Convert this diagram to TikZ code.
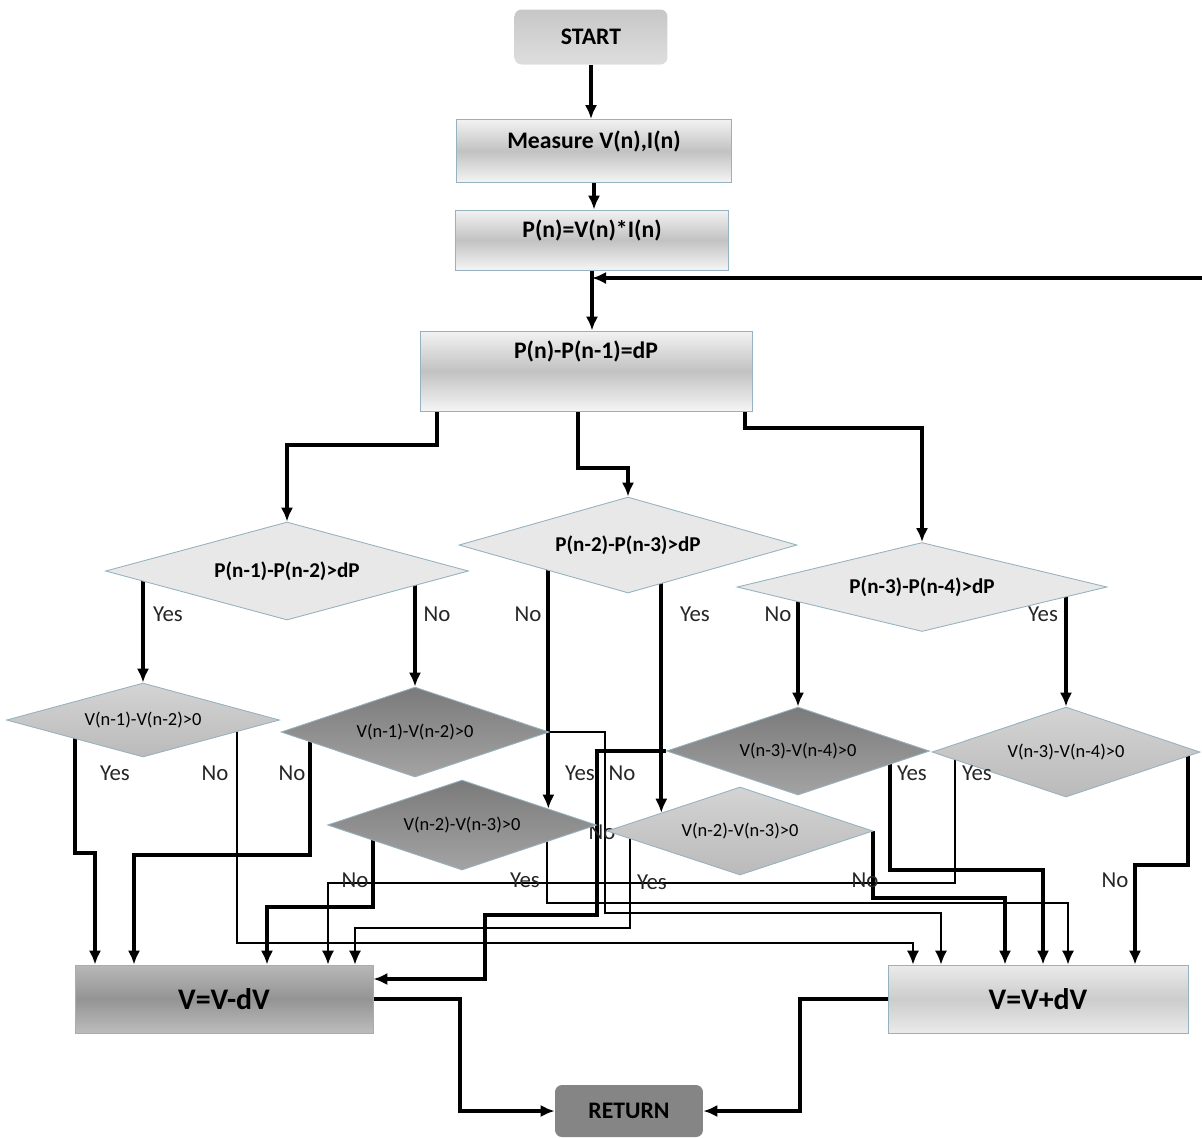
\documentclass[tikz,border=0pt]{standalone}
\usepackage{fontspec}
\setmainfont{Carlito}
\usetikzlibrary{shapes.geometric,arrows.meta,calc,backgrounds}
\definecolor{edge}{RGB}{150,178,192}

\begin{document}
\begin{tikzpicture}[x=0.02cm,y=-0.02cm,>={Latex[length=8pt,width=7pt]},
  line/.style={line width=2.3pt},
  fine/.style={line width=1.1pt},
  box/.style={rectangle,draw=edge,line width=0.5pt,inner sep=0pt,
    top color=black!5,bottom color=black!4,middle color=black!24,
    text height=0.35cm,text depth=0.45cm,
    font=\fontsize{13.5}{16}\selectfont\bfseries},
  endbox/.style={rectangle,rounded corners=4pt,inner sep=0pt,
    font=\fontsize{13.5}{16}\selectfont\bfseries},
  pdia/.style={diamond,aspect=3.7,inner sep=0pt,draw=edge,line width=0.5pt,
    fill=black!9,font=\fontsize{12}{14}\selectfont\bfseries},
  vlight/.style={diamond,aspect=3.5,inner sep=0pt,draw=edge,line width=0.5pt,
    top color=black!17,bottom color=black!27,font=\fontsize{10.5}{12}\selectfont},
  vdark/.style={vlight,top color=black!52,bottom color=black!36},
  lbl/.style={inner sep=0pt,font=\fontsize{13}{15}\selectfont,text=black!85}
]
\useasboundingbox (0,0) rectangle (1202,1137);

% boxes
\node[endbox,top color=black!22,bottom color=black!13,minimum width=3.06cm,minimum height=1.10cm] (start) at (591,37) {START};
\node[box,minimum width=5.50cm,minimum height=1.26cm] (measure) at (594,151) {Measure V(n),I(n)};
\node[box,minimum width=5.46cm,minimum height=1.20cm] (power) at (592,240) {P(n)=V(n)*I(n)};
\node[box,text depth=0.85cm,minimum width=6.64cm,minimum height=1.60cm] (diff) at (586,371) {P(n)-P(n-1)=dP};

% first comparisons
\node[pdia,minimum width=7.26cm,minimum height=1.96cm] (pa) at (287,571) {P(n-1)-P(n-2)>dP};
\node[pdia,minimum width=6.76cm,minimum height=1.92cm] (pb) at (628,545) {P(n-2)-P(n-3)>dP};
\node[pdia,minimum width=7.40cm,minimum height=1.78cm] (pc) at (922,587) {P(n-3)-P(n-4)>dP};

% second comparisons
\node[vlight,minimum width=5.46cm,minimum height=1.48cm] (va) at (143,720) {V(n-1)-V(n-2)>0};
\node[vdark,minimum width=5.36cm,minimum height=1.80cm] (vb) at (415,732) {V(n-1)-V(n-2)>0};
\node[vdark,minimum width=5.38cm,minimum height=1.80cm] (vc) at (462,825) {V(n-2)-V(n-3)>0};
\node[vlight,minimum width=5.32cm,minimum height=1.76cm] (vd) at (740,831) {V(n-2)-V(n-3)>0};
\node[vdark,minimum width=5.26cm,minimum height=1.76cm] (ve) at (798,751) {V(n-3)-V(n-4)>0};
\node[vlight,minimum width=5.36cm,minimum height=1.80cm] (vf) at (1066,752) {V(n-3)-V(n-4)>0};

% results
\node[box,top color=black!28,bottom color=black!26,middle color=black!42,text height=,text depth=,
  font=\fontsize{17}{20}\selectfont\bfseries,minimum width=5.96cm,minimum height=1.36cm] (dec) at (224,999) {V=V-dV};
\node[box,top color=black!8,bottom color=black!8,middle color=black!20,text height=,text depth=,
  font=\fontsize{17}{20}\selectfont\bfseries,minimum width=6.00cm,minimum height=1.36cm] (inc) at (1038,999) {V=V+dV};
\node[endbox,fill=black!48,minimum width=2.96cm,minimum height=1.04cm] (ret) at (629,1111) {RETURN};

\coordinate (loop) at (1202,278);
\coordinate (eb) at ($(vc.north)!0.64!(vc.east)$);
\coordinate (ey) at ($(vd.north)!0.59!(vd.west)$);

\begin{pgfonlayer}{background}
\draw[->,line] (start.south) -- (start.south |- measure.north);
\draw[->,line] (measure.south) -- (measure.south |- power.north);
\draw[->,line] (power.south) -- (power.south |- diff.north);
\draw[->,line] (loop) -- (loop -| power.south);
\draw[->,line] (diff.center -| 437,0) -- (437,445) -| (pa.north);
\draw[->,line] (diff.center -| 578,0) -- (578,468) -| (pb.north);
\draw[->,line] (diff.center -| 745,0) -- (745,428) -| (pc.north);
\draw[->,line] (pa.center -| va.north) -- (va.north);
\draw[->,line] (pa.center -| vb.north) -- (vb.north);
\draw[->,line] (pb.center -| eb) -- (eb);
\draw[->,line] (pb.center -| ey) -- (ey);
\draw[->,line] (pc.center -| ve.north) -- (ve.north);
\draw[->,line] (pc.center -| vf.north) -- (vf.north);
% into V=V-dV and V=V+dV
\draw[->,line] (va.center -| 75,0) |- (95,853) -- (dec.north -| 95,0);
\draw[->,fine] (va.center -| 237,0) |- (913,943) -- (inc.north -| 913,0);
\draw[->,line] (vb.center -| 310,0) |- (134,855) -- (dec.north -| 134,0);
\draw[->,fine] (vb.east) -| (605,913) -| (inc.north -| 941,0);
\draw[->,line] (vc.center -| 373,0) |- (267,907) -- (dec.north -| 267,0);
\draw[->,fine] (vc.center -| 547,0) |- (1068,903) -- (inc.north -| 1068,0);
\draw[->,fine] (vd.center -| 630,0) |- (355,928) -- (dec.north -| 355,0);
\draw[->,line] (vd.east) |- (1005,898) -- (inc.north -| 1005,0);
\draw[->,line] (ve.west) -| (597,915) -| (485,979) -- (dec.east |- 0,979);
\draw[->,line] (ve.center -| 890,0) |- (1043,870) -- (inc.north -| 1043,0);
\draw[->,fine] (vf.center -| 955,0) |- (328,883) -- (dec.north -| 328,0);
\draw[->,line] (vf.center -| 1188,0) |- (1135,865) -- (inc.north -| 1135,0);
\draw[->,line] (dec.east) -| (460,1111) -- (ret.west);
\draw[->,line] (inc.west) -| (800,1111) -- (ret.east);
\node[lbl] (nx) at (602,832) {No};
\end{pgfonlayer}

\node[lbl] (y1) at (168,614) {Yes};
\node[lbl] (n1) at (437,614) {No};
\node[lbl] (n2) at (528,614) {No};
\node[lbl] (y2) at (695,614) {Yes};
\node[lbl] (n3) at (778,614) {No};
\node[lbl] (y3) at (1043,614) {Yes};
\node[lbl] (y4) at (115,773) {Yes};
\node[lbl] (n4) at (215,773) {No};
\node[lbl] (n5) at (292,773) {No};
\node[lbl] (y5) at (580,773) {Yes};
\node[lbl] (n6) at (622,773) {No};
\node[lbl] (y6) at (912,773) {Yes};
\node[lbl] (y7) at (977,773) {Yes};
\node[lbl] (n7) at (355,880) {No};
\node[lbl] (y8) at (525,880) {Yes};
\node[lbl] (y9) at (652,882) {Yes};
\node[lbl] (n8) at (865,880) {No};
\node[lbl] (n9) at (1115,880) {No};
\end{tikzpicture}
\end{document}
